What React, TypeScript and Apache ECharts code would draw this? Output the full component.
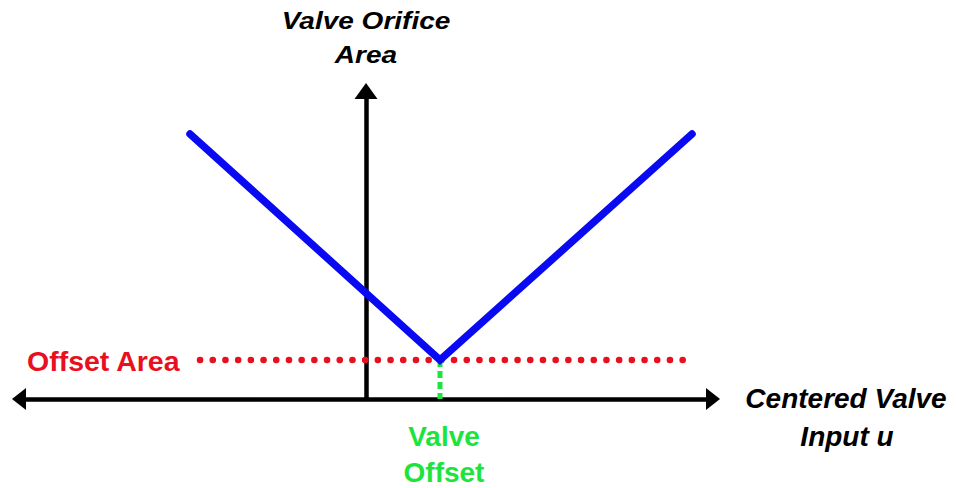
import React, { useEffect, useRef } from "react";
import * as echarts from "echarts";

// Centered valve input u (horizontal) and valve orifice area (vertical), arbitrary units
const uRange = [-34.7, 34.7];
const areaMax = 30.8;
const vCurveU = [-17.6, 7.4, 32.6];
const vCurveArea = [26.5, 3.9, 26.5];
const valveOffset = 7.4;
const offsetArea = 3.9;
const offsetLineU = [-16.6, 31.7];

const BLUE = "#0a0af2";
const RED = "#e8101e";
const GREEN = "#1de43c";
const FONT = '"Liberation Sans", Arial, sans-serif';

export default function App() {
  const ref = useRef<HTMLDivElement>(null);
  useEffect(() => {
    if (!ref.current) return;
    const chart = echarts.init(ref.current, null, { renderer: "svg" });
    const bi = (size: number) => `italic bold ${size}px ${FONT}`;
    const b = (size: number) => `bold ${size}px ${FONT}`;
    chart.setOption({
      animation: false,
      backgroundColor: "#ffffff",
      grid: { left: 19, right: 243, top: 91, bottom: 89 },
      xAxis: {
        type: "value",
        min: uRange[0],
        max: uRange[1],
        splitLine: { show: false },
        axisTick: { show: false },
        axisLabel: { show: false },
        axisLine: {
          show: true,
          onZero: true,
          symbol: ["triangle", "triangle"],
          symbolSize: [22, 14],
          lineStyle: { color: "#000", width: 4.5 },
        },
      },
      yAxis: {
        type: "value",
        min: 0,
        max: areaMax,
        splitLine: { show: false },
        axisTick: { show: false },
        axisLabel: { show: false },
        axisLine: {
          show: true,
          onZero: true,
          symbol: ["none", "triangle"],
          symbolSize: [23, 16],
          lineStyle: { color: "#000", width: 4.5 },
        },
      },
      series: [
        {
          type: "line",
          data: [
            [offsetLineU[0], offsetArea],
            [offsetLineU[1], offsetArea],
          ],
          symbol: "none",
          silent: true,
          lineStyle: { color: RED, width: 6.5, type: [0.1, 12.6], cap: "round" },
          z: 3,
        },
        {
          type: "line",
          data: [
            [valveOffset, 0],
            [valveOffset, offsetArea],
          ],
          symbol: "none",
          silent: true,
          lineStyle: { color: GREEN, width: 5, type: [7, 4], dashOffset: 1 },
          z: 3,
        },
        {
          type: "line",
          data: vCurveU.map((u, i) => [u, vCurveArea[i]]),
          symbol: "none",
          silent: true,
          lineStyle: { color: BLUE, width: 7.5, cap: "round", join: "miter" },
          z: 4,
        },
      ],
      graphic: [
        {
          type: "text",
          x: 366,
          y: 21,
          scaleY: 0.86,
          style: { text: "Valve Orifice", font: bi(28), fill: "#000", align: "center", verticalAlign: "middle" },
        },
        {
          type: "text",
          x: 366,
          y: 55,
          scaleY: 0.86,
          style: { text: "Area", font: bi(28), fill: "#000", align: "center", verticalAlign: "middle" },
        },
        {
          type: "text",
          x: 27,
          y: 361,
          style: { text: "Offset Area", font: b(28.5), fill: RED, align: "left", verticalAlign: "middle" },
        },
        {
          type: "text",
          x: 846,
          y: 398,
          style: { text: "Centered Valve", font: bi(28), fill: "#000", align: "center", verticalAlign: "middle" },
        },
        {
          type: "text",
          x: 847,
          y: 436,
          style: { text: "Input u", font: bi(28), fill: "#000", align: "center", verticalAlign: "middle" },
        },
        {
          type: "text",
          x: 444,
          y: 436,
          style: { text: "Valve", font: b(28), fill: GREEN, align: "center", verticalAlign: "middle" },
        },
        {
          type: "text",
          x: 444,
          y: 472,
          style: { text: "Offset", font: b(28), fill: GREEN, align: "center", verticalAlign: "middle" },
        },
      ],
    });
    return () => chart.dispose();
  }, []);
  return (
    <div
      ref={ref}
      style={{ position: "absolute", left: 0, top: 0, width: 956, height: 488 }}
    />
  );
}
